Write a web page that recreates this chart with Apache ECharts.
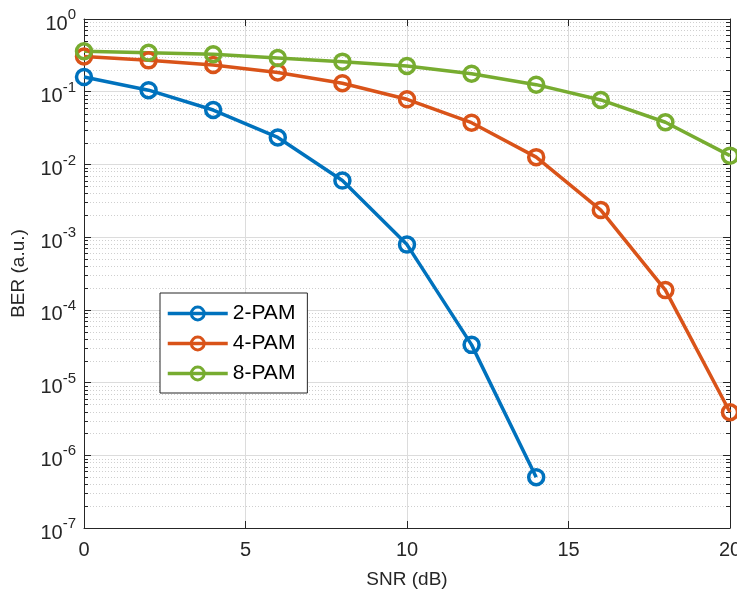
<!DOCTYPE html>
<html>
<head>
<meta charset="utf-8">
<script src="https://cdn.jsdelivr.net/npm/echarts@6/dist/echarts.min.js"></script>
<style>
html,body{margin:0;padding:0;background:#fff;}
#c{width:737px;height:590px;}
</style>
</head>
<body>
<div id="c"></div>
<script>
var snr = [0, 2, 4, 6, 8, 10, 12, 14, 16, 18, 20];
var pam2 = [0.159, 0.105, 0.056, 0.0235, 0.006, 7.9e-4, 3.3e-5, 5.0e-7];
var pam4 = [0.305, 0.27, 0.233, 0.184, 0.131, 0.0786, 0.0375, 0.0126, 0.00236, 1.87e-4, 3.9e-6];
var pam8 = [0.36, 0.344, 0.327, 0.291, 0.259, 0.226, 0.177, 0.125, 0.077, 0.038, 0.0132];
var seriesNames = ['2-PAM', '4-PAM', '8-PAM'];
var colors = ['#0072BD', '#D95319', '#77AC30'];
var xTicks = [0, 5, 10, 15, 20];
var yMin = 1e-7, yMax = 1;

// minor grid positions (2..9 per decade)
var minorVals = [];
for (var e = -7; e < 0; e++) {
  for (var m = 2; m <= 9; m++) minorVals.push([0, m * Math.pow(10, e)]);
}

function pairs(vals) {
  return vals.map(function (v, i) { return [snr[i], v]; });
}

var font = 'Liberation Sans, Arial, Helvetica, sans-serif';
var axisCol = '#262626';

function lineSeries(name, vals, col) {
  return {
    name: name,
    type: 'line',
    data: pairs(vals),
    xAxisIndex: 0, yAxisIndex: 0,
    symbol: 'circle',
    symbolSize: 15,
    showAllSymbol: true,
    clip: false,
    z: 5,
    lineStyle: { color: col, width: 3.5 },
    itemStyle: { color: 'rgba(255,255,255,0)', borderColor: col, borderWidth: 3.5 },
    emphasis: { disabled: true },
    animation: false
  };
}

var chart = echarts.init(document.getElementById('c'), null, { renderer: 'canvas' });
chart.setOption({
  animation: false,
  backgroundColor: '#fff',
  color: colors,
  grid: { left: 84, right: 7, top: 19, bottom: 62, containLabel: false, outerBoundsMode: 'none' },
  legend: {
    data: seriesNames,
    orient: 'vertical',
    left: 160, top: 293,
    itemWidth: 60, itemHeight: 16, itemGap: 9,
    padding: [10, 12, 9, 6],
    backgroundColor: '#fff',
    borderColor: axisCol, borderWidth: 1, borderRadius: 0,
    itemStyle: { color: 'none', borderWidth: 3 },
    lineStyle: { width: 3.5 },
    textStyle: { fontFamily: font, fontSize: 21, color: '#000', padding: [0, 0, 0, 0] },
    selectedMode: false
  },
  xAxis: [{
    type: 'value', min: 0, max: 20, interval: 5, position: 'bottom',
    name: 'SNR (dB)', nameLocation: 'middle', nameGap: 42,
    nameTextStyle: { fontFamily: font, fontSize: 19, color: axisCol },
    axisLine: { show: true, onZero: false, lineStyle: { color: axisCol, width: 1 } },
    axisTick: { show: true, inside: true, length: 7, lineStyle: { color: axisCol } },
    axisLabel: { fontFamily: font, fontSize: 20, color: axisCol, margin: 12 },
    splitLine: { show: true, lineStyle: { color: '#dcdcdc', width: 1 } }
  }, {
    type: 'value', min: 0, max: 20, interval: 5, position: 'top',
    axisLine: { show: true, onZero: false, lineStyle: { color: axisCol, width: 1 } },
    axisTick: { show: true, inside: true, length: 7, lineStyle: { color: axisCol } },
    axisLabel: { show: false },
    splitLine: { show: false }
  }],
  yAxis: [{
    type: 'log', logBase: 10, min: yMin, max: yMax, position: 'left',
    name: 'BER (a.u.)', nameLocation: 'middle', nameGap: 56,
    nameTextStyle: { fontFamily: font, fontSize: 19, color: axisCol },
    axisLine: { show: true, onZero: false, lineStyle: { color: axisCol, width: 1 } },
    axisTick: { show: true, inside: true, length: 7, lineStyle: { color: axisCol } },
    axisLabel: {
      margin: 8,
      formatter: function (v) {
        var ex = Math.round(Math.log10(v));
        return '{b|10}{s|' + ex + '}';
      },
      rich: {
        b: { fontFamily: font, fontSize: 20, color: axisCol, padding: [10, 0, 0, 0] },
        s: { fontFamily: font, fontSize: 15, color: axisCol, padding: [0, 0, 8, 0] }
      }
    },
    splitLine: { show: true, lineStyle: { color: '#dcdcdc', width: 1 } }
  }, {
    type: 'log', logBase: 10, min: yMin, max: yMax, position: 'right',
    axisLine: { show: true, onZero: false, lineStyle: { color: axisCol, width: 1 } },
    axisTick: { show: true, inside: true, length: 7, lineStyle: { color: axisCol } },
    axisLabel: { show: false },
    splitLine: { show: false }
  }],
  series: [
    {
      type: 'custom',
      name: 'minorGrid',
      xAxisIndex: 0, yAxisIndex: 0,
      data: minorVals,
      silent: true,
      z: 1,
      clip: false,
      renderItem: function (params, api) {
        var cs = params.coordSys;
        var y = Math.round(api.coord([0, api.value(1)])[1]) + 0.5;
        return {
          type: 'group',
          children: [
            { type: 'line', shape: { x1: cs.x, y1: y, x2: cs.x + cs.width, y2: y },
              style: { stroke: '#cfcfcf', lineWidth: 1, lineDash: [1, 2] } },
            { type: 'line', shape: { x1: cs.x, y1: y, x2: cs.x + 4, y2: y },
              style: { stroke: axisCol, lineWidth: 1 } },
            { type: 'line', shape: { x1: cs.x + cs.width - 4, y1: y, x2: cs.x + cs.width, y2: y },
              style: { stroke: axisCol, lineWidth: 1 } }
          ]
        };
      }
    },
    lineSeries(seriesNames[0], pam2, colors[0]),
    lineSeries(seriesNames[1], pam4, colors[1]),
    lineSeries(seriesNames[2], pam8, colors[2])
  ]
});
</script>
</body>
</html>
